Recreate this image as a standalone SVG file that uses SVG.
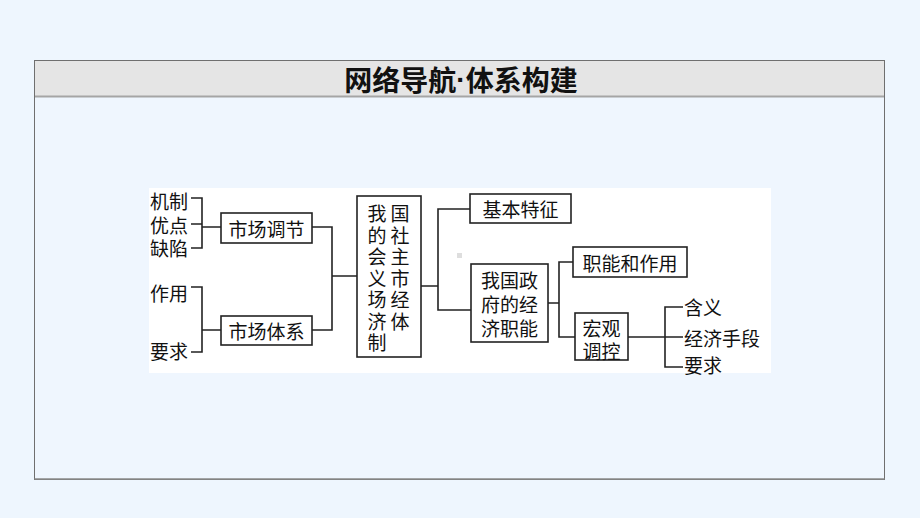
<svg xmlns="http://www.w3.org/2000/svg" width="920" height="518" viewBox="0 0 920 518">
<style>
.t{font-family:"Noto Sans CJK SC","Noto Sans",sans-serif;font-size:19px;fill:#111;dominant-baseline:central}
.m{text-anchor:middle}
.b{fill:#fff;stroke:#222;stroke-width:1.6}
.c{fill:none;stroke:#222;stroke-width:1.6}
</style>
<rect width="920" height="518" fill="#eef6fe"/>
<rect x="34.5" y="60.5" width="850" height="419" fill="#eff6fe" stroke="#6f6f6f" stroke-width="1"/>
<rect x="35" y="61" width="849" height="35" fill="#e5e5e5"/>
<line x1="35" y1="96.5" x2="884" y2="96.5" stroke="#a5a5a5" stroke-width="2"/>
<line x1="34.5" y1="479" x2="884.5" y2="479" stroke="#8a8a8a" stroke-width="1.5"/>
<text x="461" y="79" class="t m" style="font-size:28px;font-weight:bold;fill:#111">网络导航<tspan style="font-family:'Liberation Sans',sans-serif">·</tspan>体系构建</text>
<rect x="149" y="188" width="622" height="185" fill="#fff"/>
<rect x="457" y="253" width="5" height="5" fill="#dedede"/>
<g id="connectors">
<path class="c" d="M191 198H202V248H191M191 224H202M202 227H221"/>
<path class="c" d="M191 287H202V352H191M202 330H221"/>
<path class="c" d="M312 227H332V330H312M332 276H357"/>
<path class="c" d="M421 286H438M470 209H438V310H471"/>
<path class="c" d="M548 303H559M573 262H559V337H575"/>
<path class="c" d="M628 337H683M683 307H665V367H683"/>
</g>
<g id="jizhi"><text x="150" y="200" class="t">机制</text></g>
<g id="youdian"><text x="150" y="224" class="t">优点</text></g>
<g id="quexian"><text x="150" y="247" class="t">缺陷</text></g>
<g id="zuoyong"><text x="150" y="292" class="t">作用</text></g>
<g id="yaoqiu1"><text x="150" y="350" class="t">要求</text></g>
<g id="shichangtiaojie"><rect class="b" x="221" y="213" width="91" height="30"/><text x="266.5" y="228" class="t m">市场调节</text></g>
<g id="shichangtixi"><rect class="b" x="221" y="316" width="91" height="29"/><text x="266.5" y="330.5" class="t m">市场体系</text></g>
<g id="tizhi"><rect class="b" x="357" y="196" width="64" height="161"/>
<text class="t m"><tspan x="377" y="212">我</tspan><tspan x="377" y="233.5">的</tspan><tspan x="377" y="255">会</tspan><tspan x="377" y="276.5">义</tspan><tspan x="377" y="298">场</tspan><tspan x="377" y="319.5">济</tspan><tspan x="377" y="341">制</tspan></text>
<text class="t m"><tspan x="400" y="212">国</tspan><tspan x="400" y="233.5">社</tspan><tspan x="400" y="255">主</tspan><tspan x="400" y="276.5">市</tspan><tspan x="400" y="298">经</tspan><tspan x="400" y="319.5">体</tspan></text></g>
<g id="jibentezheng"><rect class="b" x="470" y="194" width="101" height="29"/><text x="520.5" y="208.5" class="t m">基本特征</text></g>
<g id="zhengfu"><rect class="b" x="471" y="264" width="77" height="78"/>
<text class="t m"><tspan x="509.5" y="279">我国政</tspan><tspan x="509.5" y="303">府的经</tspan><tspan x="509.5" y="327">济职能</tspan></text></g>
<g id="zhineng"><rect class="b" x="573" y="247" width="114" height="30"/><text x="630" y="262" class="t m">职能和作用</text></g>
<g id="hongguan"><rect class="b" x="575" y="313" width="53" height="47"/>
<text class="t m"><tspan x="601.5" y="326.5">宏观</tspan><tspan x="601.5" y="350">调控</tspan></text></g>
<g id="hanyi"><text x="684" y="306" class="t">含义</text></g>
<g id="shouduan"><text x="684" y="337" class="t">经济手段</text></g>
<g id="yaoqiu2"><text x="684" y="364" class="t">要求</text></g>
</svg>
